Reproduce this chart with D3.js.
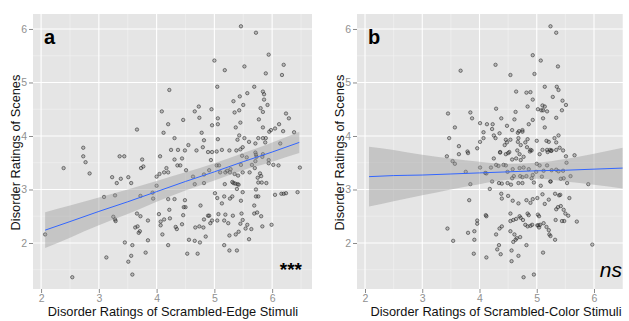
<!DOCTYPE html>
<html>
<head>
<meta charset="utf-8">
<script src="https://cdnjs.cloudflare.com/ajax/libs/d3/7.8.5/d3.min.js"></script>
<style>
  body { margin: 0; background: #fff; }
  svg { display: block; }
  text { font-family: "Liberation Sans", Arial, sans-serif; }
</style>
</head>
<body>
<svg id="chart" width="629" height="321"></svg>
<script>
// ---- data ----
const xTicks = [2, 3, 4, 5, 6];
const yTicks = [2, 3, 4, 5, 6];
const xMinor = [2.5, 3.5, 4.5, 5.5, 6.5];
const yMinor = [1.5, 2.5, 3.5, 4.5, 5.5];

// panel a: scrambled-edge vs scenes
const edgeX = [5.46,5.72,5.94,5.00,6.20,5.52,5.18,5.89,6.17,5.05,5.69,4.22,5.57,5.84,5.86,5.44,5.33,5.86,5.50,5.92,
  4.73,4.66,4.09,4.95,5.35,5.43,5.80,5.84,6.24,4.74,5.06,6.29,4.46,4.20,5.06,5.45,4.96,5.77,6.12,5.84,
  5.37,3.66,4.12,4.78,6.05,5.98,5.95,6.19,6.38,5.43,4.31,4.82,5.06,5.40,5.52,5.76,5.84,5.89,5.60,5.71,
  5.88,6.14,4.55,2.73,4.80,5.49,4.25,4.37,4.49,4.69,4.89,4.96,5.04,5.13,5.26,5.38,5.45,5.48,5.56,5.71,
  5.72,5.84,5.94,6.02,2.73,2.39,2.77,2.84,3.36,3.44,3.75,4.06,3.73,3.77,3.23,3.38,3.51,3.31,3.56,4.00,
  4.05,4.13,4.20,4.17,4.31,4.36,4.41,4.44,4.51,4.63,4.66,4.82,4.82,4.91,4.94,5.04,5.08,5.10,5.19,5.22,
  5.27,5.28,5.35,5.41,5.46,5.49,5.40,5.31,5.33,5.36,5.42,5.39,5.18,5.65,5.70,5.61,5.71,5.73,5.75,5.76,
  5.79,5.81,5.82,5.90,5.83,6.11,5.94,6.48,5.72,3.09,3.28,3.72,3.93,3.94,4.00,4.31,4.49,4.50,4.76,5.01,
  5.05,5.13,5.17,5.27,5.31,5.46,5.49,5.69,5.72,5.76,6.05,6.16,6.20,6.24,6.44,2.07,3.25,3.28,3.29,3.66,
  3.72,3.63,3.67,3.71,3.69,3.85,3.85,3.45,3.58,3.81,3.13,3.56,3.51,3.58,2.54,4.04,4.07,4.07,4.13,4.22,
  4.23,4.33,4.35,4.44,4.46,4.47,4.10,4.20,4.56,4.66,4.75,4.85,4.53,4.71,4.67,4.74,4.81,4.82,4.89,4.91,
  4.93,4.96,5.05,5.07,5.17,5.19,5.24,5.17,5.26,5.39,5.26,5.37,5.42,5.45,5.49,5.47,5.54,5.60,5.64,5.69,
  5.74,5.81,5.83,5.99,5.57,5.32,4.20];
const edgeY = [6.05,5.93,5.52,5.41,5.33,5.30,5.23,5.17,5.14,4.92,4.92,4.86,4.80,4.83,4.78,4.74,4.65,4.68,4.58,4.58,
  4.55,4.46,4.46,4.50,4.44,4.48,4.52,4.45,4.42,4.34,4.33,4.33,4.30,4.22,4.22,4.25,4.20,4.31,4.22,4.16,
  4.16,4.12,4.06,4.06,4.14,4.11,4.08,4.09,4.07,4.01,3.96,3.92,3.94,3.93,3.96,3.96,3.96,3.96,3.89,3.86,
  3.88,3.86,3.83,3.78,3.79,3.79,3.74,3.74,3.73,3.73,3.70,3.70,3.71,3.74,3.73,3.73,3.75,3.63,3.60,3.69,
  3.65,3.66,3.55,3.46,3.62,3.40,3.51,3.30,3.62,3.62,3.56,3.62,3.40,3.43,3.23,3.20,3.23,3.12,3.12,3.24,
  3.29,3.32,3.32,3.40,3.56,3.45,3.45,3.58,3.36,3.24,3.10,3.12,3.28,3.36,3.55,3.45,3.45,3.32,3.32,3.35,
  3.32,3.38,3.29,3.26,3.46,3.32,3.10,3.14,3.12,3.11,3.09,3.01,3.10,3.46,3.40,3.32,3.53,3.61,3.22,3.13,
  3.30,3.25,3.13,3.12,3.61,3.45,3.49,3.41,3.00,2.86,2.89,2.88,2.94,2.83,3.07,2.82,2.80,2.67,2.70,2.93,
  2.84,2.74,2.87,2.83,2.87,2.79,2.95,2.70,2.87,2.87,2.90,2.92,2.92,2.93,2.95,2.16,2.49,2.44,2.41,2.55,
  2.50,2.29,2.31,2.22,2.19,2.42,2.05,2.01,1.96,1.82,1.73,1.76,1.65,1.41,1.36,2.54,2.40,2.33,2.44,2.62,
  2.46,2.30,2.26,2.35,2.52,2.67,2.16,1.96,2.06,2.04,2.01,2.12,1.80,1.80,2.29,2.31,2.29,2.44,2.51,2.51,
  2.37,2.42,2.42,2.54,2.42,2.53,2.37,1.96,1.86,1.86,2.14,2.16,2.21,2.36,2.43,2.55,2.27,2.07,2.26,2.55,
  2.57,2.50,2.31,2.34,2.34,2.51,2.82];

// panel b: scrambled-color vs scenes
const colorX = [5.24,5.34,4.93,5.07,4.28,3.67,5.37,4.54,4.96,5.14,5.35,5.38,4.64,4.82,4.89,5.28,4.93,5.45,5.51,4.84,
  5.10,5.14,5.02,5.08,5.11,5.18,5.44,4.29,4.63,3.45,3.84,3.87,4.38,4.61,4.93,5.11,5.34,4.01,4.13,4.23,
  4.48,4.86,3.57,4.22,4.07,4.35,4.57,4.67,4.69,4.75,4.75,5.14,4.25,4.28,3.47,4.07,4.01,4.46,4.54,4.68,
  4.84,4.67,4.80,5.00,5.17,5.21,5.31,5.38,5.34,3.64,3.96,3.79,4.44,4.48,4.72,4.83,4.91,4.88,4.66,4.52,
  4.36,5.10,5.23,5.26,5.40,5.46,5.19,3.43,3.64,3.80,3.53,3.57,4.25,4.36,4.46,4.50,4.57,4.64,4.70,4.72,
  4.77,4.89,5.05,5.18,5.25,5.34,5.51,5.66,5.52,4.01,4.20,4.29,4.33,4.42,4.46,4.58,4.70,4.77,4.86,5.00,
  5.05,5.18,3.76,4.12,4.10,4.49,4.60,4.71,4.82,4.93,4.99,5.12,5.26,5.34,5.38,5.46,5.59,4.57,4.75,4.91,
  5.09,5.24,5.47,3.84,4.22,4.34,4.39,4.49,4.55,4.68,4.75,4.95,5.07,5.24,5.42,5.53,5.90,4.18,4.38,4.39,
  4.50,4.58,4.68,4.82,4.89,4.93,5.01,5.10,5.14,5.21,5.32,5.39,5.41,5.34,5.37,5.42,5.57,5.47,5.50,5.55,
  5.48,5.44,3.82,4.11,4.12,3.96,3.96,3.44,3.80,3.91,3.54,3.91,3.90,4.12,4.29,4.35,4.39,4.54,4.54,4.59,
  4.64,4.70,4.72,4.76,4.80,4.84,4.86,4.84,4.89,4.92,5.02,5.04,5.01,5.03,5.04,5.06,5.12,5.17,5.21,5.22,
  5.24,5.32,4.54,4.61,4.65,4.63,4.71,4.82,4.59,4.34,4.31,4.37,4.56,4.68,4.56,5.11,4.77,4.95,5.70,5.97,
  5.33];
const colorY = [6.05,5.93,5.51,5.41,5.33,5.22,5.30,5.14,5.16,4.92,4.92,4.86,4.83,4.81,4.82,4.73,4.68,4.66,4.58,4.55,
  4.57,4.55,4.50,4.48,4.48,4.46,4.48,4.51,4.45,4.42,4.44,4.33,4.33,4.31,4.30,4.33,4.34,4.24,4.22,4.22,
  4.19,4.22,4.16,4.13,4.07,4.05,4.11,4.06,4.09,4.11,4.08,4.16,4.01,3.96,3.96,3.96,3.89,3.93,3.93,3.96,
  3.94,3.89,3.88,3.91,3.91,3.89,3.96,4.01,3.88,3.81,3.77,3.71,3.83,3.88,3.83,3.79,3.73,3.71,3.73,3.70,
  3.70,3.74,3.74,3.73,3.78,3.73,3.70,3.62,3.66,3.68,3.53,3.48,3.58,3.69,3.66,3.68,3.56,3.58,3.66,3.55,
  3.61,3.74,3.66,3.74,3.72,3.74,3.62,3.64,3.50,3.41,3.41,3.46,3.44,3.46,3.45,3.38,3.40,3.41,3.38,3.48,
  3.45,3.45,3.33,3.30,3.31,3.33,3.25,3.25,3.25,3.27,3.33,3.35,3.36,3.37,3.34,3.35,3.25,3.21,3.23,3.21,
  3.24,3.15,3.21,3.10,3.15,3.12,3.11,3.12,3.09,3.12,3.12,3.13,3.07,3.15,3.20,3.12,3.10,3.01,2.92,2.83,
  2.88,2.79,2.74,2.80,2.75,2.82,2.84,2.91,2.73,2.81,2.92,2.89,2.90,2.63,2.67,2.69,2.84,2.62,2.55,2.51,
  2.41,2.41,2.80,2.52,2.50,2.42,2.36,2.27,2.19,2.22,2.04,2.06,1.80,1.73,2.16,2.27,2.31,2.55,2.41,2.43,
  2.45,2.50,2.47,2.43,2.34,2.55,2.52,2.31,2.32,2.34,2.53,2.50,2.33,2.33,2.29,2.34,2.37,2.30,2.24,2.16,
  2.13,2.06,2.22,2.16,2.09,2.06,2.11,1.96,2.02,1.96,1.88,1.79,1.86,1.76,1.66,1.82,1.36,1.41,2.40,1.97,
  2.43];

// fitted lines with confidence band, read at a few x positions
const edgeFitX  = [2.07, 2.5, 3, 3.5, 4, 4.5, 5, 5.5, 6, 6.47];
const edgeFit   = [2.24, 2.40, 2.59, 2.77, 2.96, 3.15, 3.33, 3.52, 3.70, 3.88];
const edgeLo    = [1.905, 2.10, 2.33, 2.54, 2.77, 2.98, 3.17, 3.36, 3.52, 3.68];
const edgeHi    = [2.575, 2.70, 2.85, 3.00, 3.16, 3.32, 3.49, 3.68, 3.88, 4.08];

const colorFitX = [2.07, 2.5, 3, 3.5, 4, 4.5, 5, 5.5, 6, 6.5];
const colorFit  = [3.24, 3.26, 3.27, 3.29, 3.31, 3.33, 3.35, 3.36, 3.38, 3.40];
const colorLo   = [2.68, 2.78, 2.89, 3.00, 3.10, 3.18, 3.20, 3.15, 3.09, 3.02];
const colorHi   = [3.80, 3.74, 3.65, 3.58, 3.52, 3.48, 3.50, 3.57, 3.67, 3.78];

const xDomain = [1.86, 6.69];
const yDomain = [1.14, 6.28];

// ---- layout ----
const svg = d3.select("#chart");
const plotTop = 14, plotH = 275;

function drawPanel(p) {
  const g = svg.append("g").attr("transform", `translate(${p.left},${plotTop})`);
  const x = d3.scaleLinear().domain(xDomain).range([0, p.span]);
  const y = d3.scaleLinear().domain(yDomain).range([plotH, 0]);

  g.append("clipPath").attr("id", "clip" + p.id)
    .append("rect").attr("width", p.width).attr("height", plotH);

  const body = g.append("g").attr("clip-path", `url(#clip${p.id})`);
  body.append("rect").attr("width", p.width).attr("height", plotH).attr("fill", "#e5e5e5");

  // grid
  body.selectAll(".vminor").data(xMinor).join("line")
    .attr("x1", d => x(d)).attr("x2", d => x(d)).attr("y1", 0).attr("y2", plotH)
    .attr("stroke", "#f2f2f2").attr("stroke-width", 0.6);
  body.selectAll(".hminor").data(yMinor).join("line")
    .attr("y1", d => y(d)).attr("y2", d => y(d)).attr("x1", 0).attr("x2", p.width)
    .attr("stroke", "#f2f2f2").attr("stroke-width", 0.6);
  body.selectAll(".vmajor").data(xTicks).join("line")
    .attr("x1", d => x(d)).attr("x2", d => x(d)).attr("y1", 0).attr("y2", plotH)
    .attr("stroke", "#fff").attr("stroke-width", 1.1);
  body.selectAll(".hmajor").data(yTicks).join("line")
    .attr("y1", d => y(d)).attr("y2", d => y(d)).attr("x1", 0).attr("x2", p.width)
    .attr("stroke", "#fff").attr("stroke-width", 1.1);

  // points
  body.append("g").selectAll("circle").data(p.xs.map((v, i) => [v, p.ys[i]])).join("circle")
    .attr("cx", d => x(d[0])).attr("cy", d => y(d[1])).attr("r", 1.7)
    .attr("fill", "rgba(80,80,80,0.3)").attr("stroke", "rgba(30,30,30,0.75)").attr("stroke-width", 0.7);

  // smoother band + line
  const fit = p.fitX.map((v, i) => ({ x: v, f: p.fit[i], lo: p.lo[i], hi: p.hi[i] }));
  body.append("path").datum(fit)
    .attr("d", d3.area().x(d => x(d.x)).y0(d => y(d.lo)).y1(d => y(d.hi)).curve(d3.curveMonotoneX))
    .attr("fill", "#999").attr("fill-opacity", 0.42);
  body.append("path").datum(fit)
    .attr("d", d3.line().x(d => x(d.x)).y(d => y(d.f)).curve(d3.curveMonotoneX))
    .attr("fill", "none").attr("stroke", "#3366ff").attr("stroke-width", 1);

  // axes
  const xa = g.append("g").attr("transform", `translate(0,${plotH})`)
    .call(d3.axisBottom(x).tickValues(xTicks).tickSize(4).tickPadding(2).tickFormat(d3.format("d")));
  const ya = g.append("g")
    .call(d3.axisLeft(y).tickValues(yTicks).tickSize(4).tickPadding(2).tickFormat(d3.format("d")));
  [xa, ya].forEach(a => {
    a.select(".domain").remove();
    a.selectAll(".tick line").attr("stroke", "#8a8a8a");
    a.selectAll(".tick text").attr("fill", "#909090").attr("font-size", 10.5)
      .attr("font-family", "'Liberation Sans', Arial, sans-serif");
  });

  // titles
  g.append("text").attr("x", p.titleX).attr("y", plotH + 27)
    .attr("text-anchor", "middle").attr("font-size", 12.8).attr("fill", "#111").text(p.xTitle);
  g.append("text").attr("transform", `translate(-13.5,${plotH / 2 + 1}) rotate(-90)`)
    .attr("text-anchor", "middle").attr("font-size", 12.8).attr("fill", "#111").text("Disorder Ratings of Scenes");

  // panel letter and significance mark
  g.append("text").attr("x", 11).attr("y", 30).attr("font-size", 20).attr("font-weight", "bold")
    .attr("fill", "#000").text(p.letter);
  g.append("text").attr("x", p.sigX).attr("y", p.sigY).attr("text-anchor", "end")
    .attr("font-size", p.sigSize).attr("font-weight", p.sigWeight).attr("font-style", p.sigStyle)
    .attr("fill", "#000").text(p.sig);
}

drawPanel({ id: "a", left: 33, width: 279, span: 279, xs: edgeX, ys: edgeY,
  fitX: edgeFitX, fit: edgeFit, lo: edgeLo, hi: edgeHi,
  xTitle: "Disorder Ratings of Scrambled-Edge Stimuli", titleX: 140,
  letter: "a", sig: "***", sigX: 269, sigY: 262, sigSize: 19, sigWeight: "bold", sigStyle: "normal" });

drawPanel({ id: "b", left: 357, width: 266, span: 276.5, xs: colorX, ys: colorY,
  fitX: colorFitX, fit: colorFit, lo: colorLo, hi: colorHi,
  xTitle: "Disorder Ratings of Scrambled-Color Stimuli", titleX: 139,
  letter: "b", sig: "ns", sigX: 265, sigY: 263, sigSize: 21, sigWeight: "normal", sigStyle: "italic" });
</script>
</body>
</html>
